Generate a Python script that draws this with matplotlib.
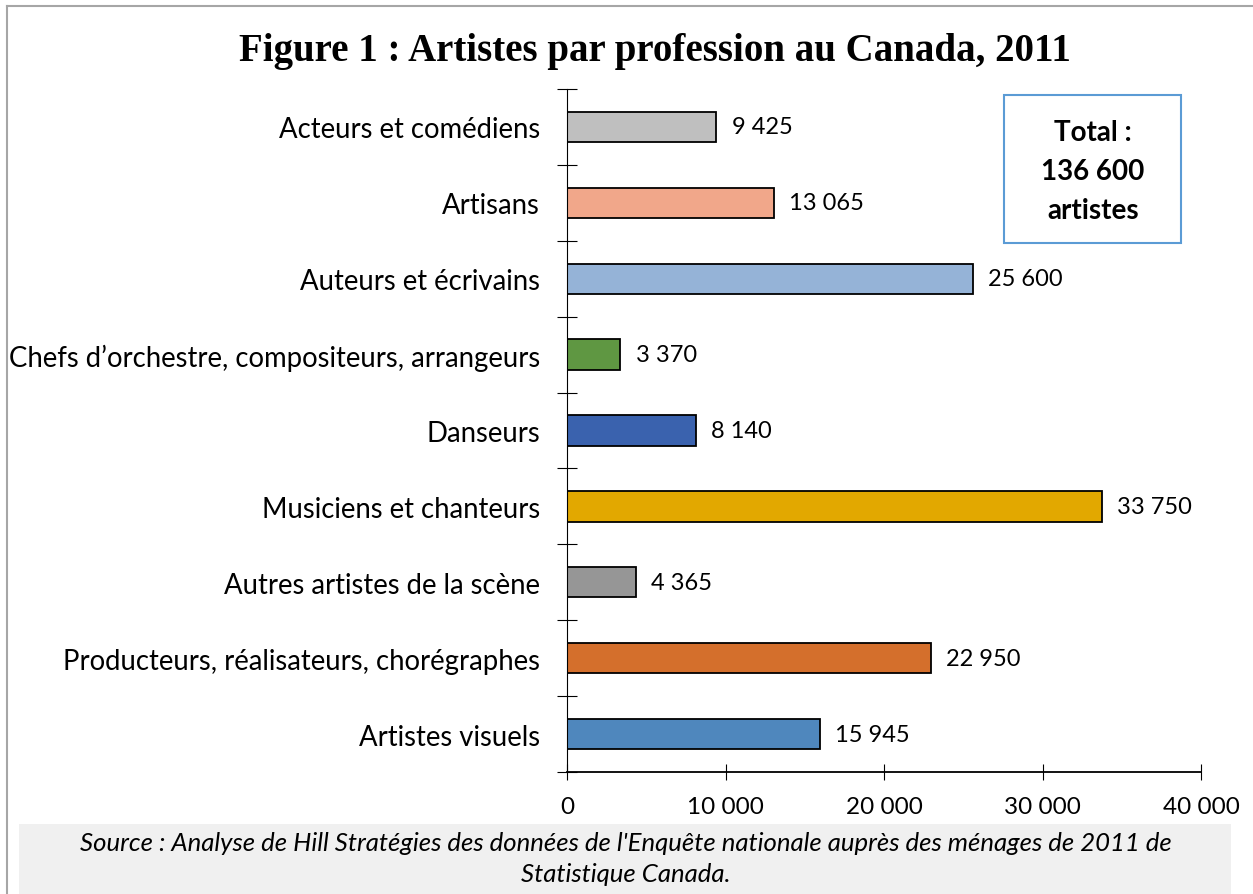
import matplotlib
matplotlib.use('Agg')
import matplotlib.pyplot as plt
from matplotlib.patches import Rectangle
from matplotlib.lines import Line2D

# ── data ─────────────────────────────────────────────────────────────────────
professions = [
    'Acteurs et comédiens',
    'Artisans',
    'Auteurs et écrivains',
    'Chefs d\u2019orchestre, compositeurs, arrangeurs',
    'Danseurs',
    'Musiciens et chanteurs',
    'Autres artistes de la scène',
    'Producteurs, réalisateurs, chorégraphes',
    'Artistes visuels',
]
counts = [9425, 13065, 25600, 3370, 8140, 33750, 4365, 22950, 15945]
colors = ['#BFBFBF', '#F1A78A', '#95B3D7', '#5F9742', '#3A62AE',
          '#E2A800', '#969696', '#D46F2C', '#4F87BD']
x_ticks = [0, 10000, 20000, 30000, 40000]

title = 'Figure 1 : Artistes par profession au Canada, 2011'
total_text = 'Total :\n136 600\nartistes'
source = ("Source : Analyse de Hill Stratégies des données de l'Enquête nationale auprès des ménages de 2011 de\n"
          "Statistique Canada.")


def fmt(v):
    return f'{v:,}'.replace(',', ' ')


plt.rcParams['font.family'] = ['Lato', 'DejaVu Sans']

W, H = 1253, 895
fig = plt.figure(figsize=(W / 100, H / 100), dpi=100)

# outer frame (top and left edges visible)
fig.add_artist(Line2D([7 / W, 7 / W], [0, 1 - 7 / H], transform=fig.transFigure,
                      color='#A6A6A6', lw=1.5))
fig.add_artist(Line2D([7 / W, 1], [1 - 7 / H, 1 - 7 / H], transform=fig.transFigure,
                      color='#A6A6A6', lw=1.5))

ax = fig.add_axes([567 / W, 1 - 773 / H, (1201 - 567) / W, (773 - 90) / H])

pos = list(range(len(professions)))
bars = ax.barh(pos, counts, height=0.4, color=colors, edgecolor='black', linewidth=1.3)
for b, v in zip(bars, counts):
    ax.annotate(fmt(v), (b.get_width(), b.get_y() + b.get_height() / 2),
                xytext=(11, 0), textcoords='offset points', va='center', ha='left',
                fontsize=17)

ax.set_xlim(0, 40000)
ax.set_ylim(len(professions) - 0.5, -0.5)
ax.set_xticks(x_ticks)
ax.set_xticklabels([fmt(t) for t in x_ticks], fontsize=17.5)
ax.set_yticks(pos)
ax.set_yticklabels(professions, fontsize=19.8)
ax.tick_params(axis='y', length=0, pad=19.5)
ax.set_yticks([p - 0.5 for p in pos] + [len(pos) - 0.5], minor=True)
ax.tick_params(axis='y', which='minor', direction='inout', length=14, width=0.8)
ax.tick_params(axis='x', direction='inout', length=12, width=0.8, pad=11)
for s in ['top', 'right']:
    ax.spines[s].set_visible(False)
ax.spines['left'].set_linewidth(0.8)
ax.spines['bottom'].set_linewidth(1.3)

# total box
fig.add_artist(Rectangle((1004 / W, 1 - 244 / H), 177 / W, 148 / H,
                         transform=fig.transFigure, facecolor='white',
                         edgecolor='#5B9BD5', lw=1.5))
fig.text(1093 / W, 1 - 172 / H, total_text, ha='center', va='center',
         fontsize=20, fontweight='bold', linespacing=1.62)

fig.text(655 / W, 1 - 52 / H, title, ha='center', va='center',
         fontsize=28, fontweight='bold', family='Liberation Serif')

# source box
fig.add_artist(Rectangle((19 / W, 0), (1231 - 19) / W, (895 - 825) / H,
                         transform=fig.transFigure, facecolor='#F0F0F0',
                         edgecolor='none'))
fig.text(626 / W, 1 - 859 / H, source, ha='center', va='center',
         fontsize=18.5, style='italic', linespacing=1.42)

fig.savefig('out.png', dpi=100)
